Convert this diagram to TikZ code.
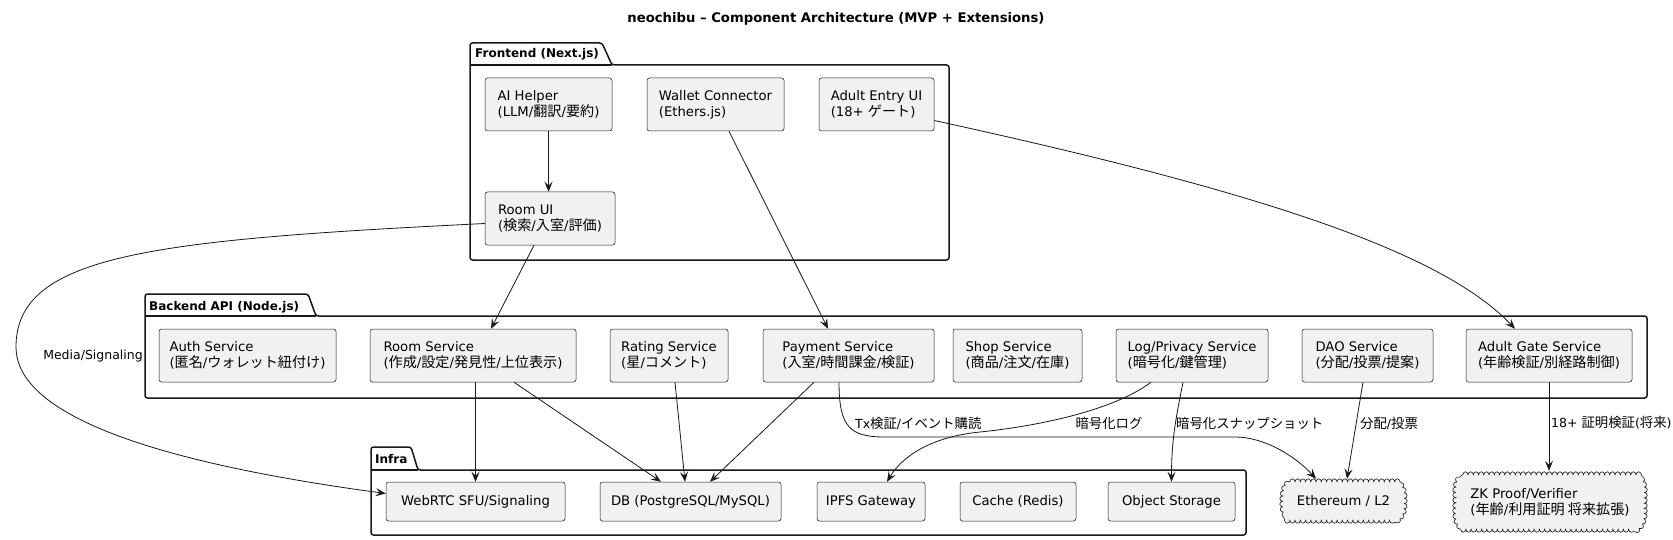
\documentclass[tikz,border=0pt]{standalone}
\usepackage{fontspec}
\setmainfont{DejaVu Sans}
\newfontfamily\jf[Scale=1.07]{Noto Sans CJK JP}
\newcommand\J[1]{{\jf #1}}
\usetikzlibrary{arrows.meta,calc,decorations.pathmorphing}
\pgfdeclarelayer{bg}
\pgfsetlayers{bg,main}
\definecolor{boxfill}{HTML}{F1F1F1}
\definecolor{ln}{HTML}{181818}
\begin{document}
\begin{tikzpicture}[x=1pt,y=-1pt,
  comp/.style={draw=ln, fill=boxfill, line width=0.5pt, rounded corners=2.5pt, align=left, inner sep=2pt, font=\fontsize{13.2}{16}\selectfont},
  cloudnode/.style={align=left, inner sep=2pt, font=\fontsize{13.2}{16}\selectfont},
  conn/.style={draw=ln, line width=0.8pt, -{Stealth[length=10pt,width=8pt,inset=4pt]}},
  lbl/.style={font=\fontsize{12.5}{15}\selectfont, inner sep=0pt},
  frame/.style={draw=ln, line width=1.5pt, rounded corners=2.5pt},
  ftitle/.style={font=\bfseries\fontsize{12}{14}\selectfont, inner sep=0pt, anchor=base west},
  cloudln/.style={draw=ln, fill=boxfill, line width=0.6pt, decorate, decoration={bumps, segment length=10.5pt, amplitude=3pt}}
]
\begin{pgfonlayer}{bg}
\fill[white] (0,0) rectangle (1673,540);
\end{pgfonlayer}
\useasboundingbox (0,0) rectangle (1673,540);

% title
\node[font=\bfseries\fontsize{13.2}{16}\selectfont, inner sep=0pt] (title) at (836,18.5) {neochibu – Component Architecture (MVP + Extensions)};

% frames
\draw[frame] (470,65) -- (470,43) -- (602,43) -- (612,65) -- (949,65) -- (949,260) -- (470,260) -- cycle;
\draw[draw=ln, line width=1.5pt] (470,65) -- (612,65);
\node[ftitle] (fel) at (475,58) {Frontend (Next.js)};

\draw[frame] (145,316) -- (145,294) -- (308,294) -- (316,316) -- (1647,316) -- (1647,398) -- (145,398) -- cycle;
\draw[draw=ln, line width=1.5pt] (145,316) -- (316,316);
\node[ftitle] (bel) at (149,310) {Backend API (Node.js)};

\draw[frame] (371,470) -- (371,447) -- (411,447) -- (418,470) -- (1246,470) -- (1246,535) -- (371,535) -- cycle;
\draw[draw=ln, line width=1.5pt] (371,470) -- (418,470);
\node[ftitle] (inl) at (375,463) {Infra};

% frontend
\node[comp, minimum width=127, minimum height=53] (aih) at (548.5,104.5) {AI Helper\\(LLM/\J{翻訳}/\J{要約})};
\node[comp, minimum width=137, minimum height=53] (wal) at (715.5,104.5) {Wallet Connector\\(Ethers.js)};
\node[comp, minimum width=115, minimum height=53] (adu) at (876.5,104.5) {Adult Entry UI\\(18+ \J{ゲート})};
\node[comp, minimum width=130, minimum height=53] (rui) at (550,218.5) {Room UI\\(\J{検索}/\J{入室}/\J{評価})};

% backend
\node[comp, minimum width=177, minimum height=53] (auth) at (247.5,355.5) {Auth Service\\(\J{匿名}/\J{ウォレット紐付け})};
\node[comp, minimum width=206, minimum height=53] (rsv) at (473,355.5) {Room Service\\(\J{作成}/\J{設定}/\J{発見性}/\J{上位表示})};
\node[comp, minimum width=118, minimum height=53] (rat) at (669,355.5) {Rating Service\\(\J{星}/\J{コメント})};
\node[comp, minimum width=171, minimum height=53] (pay) at (848.5,355.5) {Payment Service\\(\J{入室}/\J{時間課金}/\J{検証})};
\node[comp, minimum width=129, minimum height=53] (shop) at (1017.5,355.5) {Shop Service\\(\J{商品}/\J{注文}/\J{在庫})};
\node[comp, minimum width=152, minimum height=53] (log) at (1192,355.5) {Log/Privacy Service\\(\J{暗号化}/\J{鍵管理})};
\node[comp, minimum width=131, minimum height=53] (dao) at (1367.5,355.5) {DAO Service\\(\J{分配}/\J{投票}/\J{提案})};
\node[comp, minimum width=166, minimum height=53] (agt) at (1549,355.5) {Adult Gate Service\\(\J{年齢検証}/\J{別経路制御})};

% infra
\node[comp, minimum width=179, minimum height=39] (rtc) at (475.5,501.5) {WebRTC SFU/Signaling};
\node[comp, minimum width=181, minimum height=39] (db) at (690.5,501.5) {DB (PostgreSQL/MySQL)};
\node[comp, minimum width=108, minimum height=39] (ipfs) at (871,501.5) {IPFS Gateway};
\node[comp, minimum width=116, minimum height=39] (cache) at (1018,501.5) {Cache (Redis)};
\node[comp, minimum width=127, minimum height=39] (os) at (1171.5,501.5) {Object Storage};

% clouds
\node[cloudnode, minimum width=121, minimum height=38] (eth) at (1343.5,501) {Ethereum / L2};
\node[cloudnode, minimum width=188, minimum height=54] (zk) at (1550,502) {ZK Proof/Verifier\\(\J{年齢}/\J{利用証明 将来拡張})};
\begin{pgfonlayer}{bg}
\path[cloudln] ($(eth.north west)+(7,0)$) -- ($(eth.north east)+(-7,0)$) to[out=-40,in=90] (eth.east) to[out=-90,in=40] ($(eth.south east)+(-7,0)$) -- ($(eth.south west)+(7,0)$) to[out=140,in=-90] (eth.west) to[out=90,in=-140] cycle;
\path[cloudln] ($(zk.north west)+(7,0)$) -- ($(zk.north east)+(-7,0)$) to[out=-40,in=90] (zk.east) to[out=-90,in=40] ($(zk.south east)+(-7,0)$) -- ($(zk.south west)+(7,0)$) to[out=140,in=-90] (zk.west) to[out=90,in=-140] cycle;
\end{pgfonlayer}

% waypoints
\coordinate (msl) at (16,347);
\coordinate (tx1) at (885,437);
\coordinate (tx2) at (1235,437);
\coordinate (lg1) at (980,432);

% connectors
\draw[conn] (aih.south) -- (aih.south |- rui.north);
\draw[conn] ($(rui.south)+(-16,0)$) -- ($(rsv.north)+(18,0)$);
\draw[conn] ($(wal.south)+(13.5,0)$) -- ($(pay.north)+(-20.5,0)$);
\draw[conn] ($(adu.east)+(0,16)$) .. controls +(316,69) and +(-75,-79) .. ($(agt.north)+(-34,0)$);
\draw[conn] ($(rui.west)+(0,5)$) .. controls (150,240) and (16,255) .. (msl) .. controls (16,400) and (100,455) .. ($(rtc.west)+(0,-8)$);
\draw[conn] (rtc.north |- rsv.south) -- (rtc.north);
\draw[conn] ($(rsv.south)+(41,0)$) -- ($(db.north)+(-29.5,0)$);
\draw[conn] ($(rat.south)+(6,0)$) -- ($(db.north)+(-5.5,0)$);
\draw[conn] ($(pay.south)+(-34.5,0)$) -- ($(db.north)+(19.5,0)$);
\draw[conn] ($(pay.south)+(-9.5,0)$) .. controls +(0,45) and +(-35,0) .. (tx1) -- (tx2) .. controls +(30,0) and +(-20,-22) .. ($(eth.north)+(-27.5,-3)$);
\draw[conn] ($(log.south)+(-41,0)$) .. controls +(-40,30) and +(50,-5) .. (lg1) .. controls +(-50,5) and +(15,-25) .. ($(ipfs.north)+(16,0)$);
\draw[conn] ($(log.south)+(-9,0)$) .. controls +(-8,40) and +(0,-40) .. (os.north);
\draw[conn] ($(dao.south)+(-4.5,0)$) -- ($(eth.north)+(3.5,-3)$);
\draw[conn] (agt.south) -- ($(agt.south |- zk.north)+(0,-4)$);

% labels
\node[lbl] (lms) at (93,356) {Media/Signaling};
\node[lbl, anchor=west] (ltx) at (855,423) {Tx\J{検証}/\J{イベント購読}};
\node[lbl] (llog) at (1109,423) {\J{暗号化ログ}};
\node[lbl, anchor=west] (lsnap) at (1176,423) {\J{暗号化スナップショット}};
\node[lbl, anchor=west] (ldao) at (1360,423) {\J{分配}/\J{投票}};
\node[lbl, anchor=west] (lzk) at (1551,423) {18+ \J{証明検証}(\J{将来})};
\end{tikzpicture}
\end{document}
